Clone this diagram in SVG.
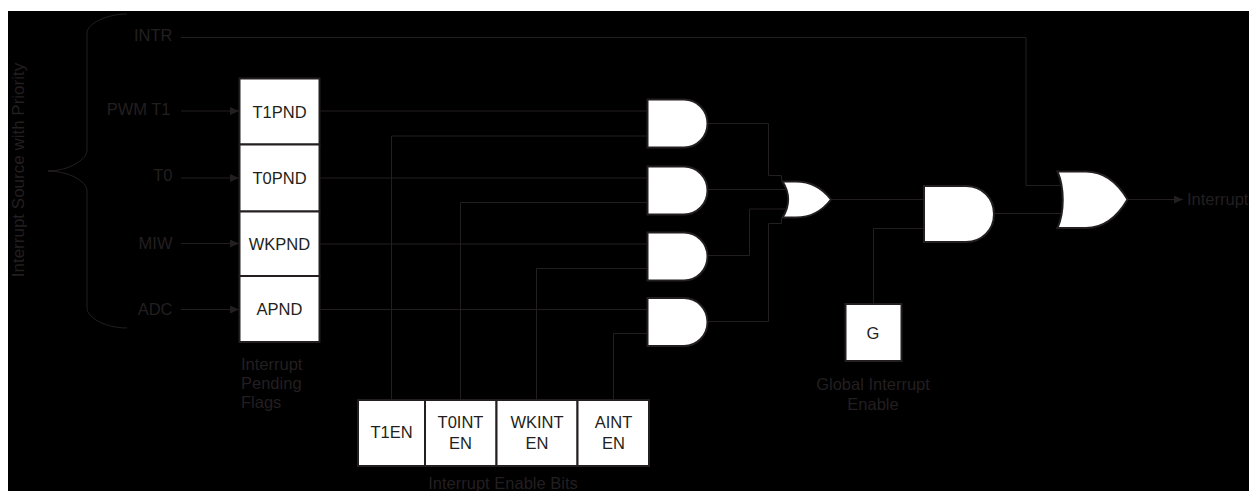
<svg xmlns="http://www.w3.org/2000/svg" width="1249" height="491" viewBox="0 0 1249 491">
<defs>
<style>
text{font-family:"Liberation Sans",Arial,sans-serif;font-size:16.5px;fill:#231f20}
.m{text-anchor:middle}.e{text-anchor:end}
.b{fill:#fff;stroke:#231f20;stroke-width:2}
.g{fill:#fff;stroke:#231f20;stroke-width:2;stroke-linejoin:miter}
.w{fill:none;stroke:#231f20;stroke-width:1}
</style>
<marker id="a" markerUnits="userSpaceOnUse" markerWidth="9" markerHeight="8" refX="9" refY="4" orient="auto"><path d="M0,0L9,4L0,8z" fill="#231f20"/></marker>
</defs>
<rect x="0" y="0" width="1249" height="491" fill="#fff"/>
<rect x="8" y="11" width="1241" height="480" fill="#000"/>
<g id="connectors" class="w">
<path class="w" d="M127,14C106,14 87,24 87,33V150C87,160 68,171 48,171H55M48,171C68,171 87,181 87,191V308C87,318 106,328 127,328"/>
<path class="w" d="M181,37.5H1026V185.5H1060"/>
<path class="w" marker-end="url(#a)" d="M181,111H239"/>
<path class="w" marker-end="url(#a)" d="M181,178H239"/>
<path class="w" marker-end="url(#a)" d="M181,243.5H239"/>
<path class="w" marker-end="url(#a)" d="M181,309.5H239"/>
<path class="w" d="M320,111H647M320,178H647M320,244H647M320,309.5H647"/>
<path class="w" d="M391.5,400V136H647M460.5,400V202.5H647M536.5,400V268.5H647M613.5,400V333.5H647"/>
<path class="w" d="M708,123.5H768.5V175.5H781.5V180"/>
<path class="w" d="M708,189.5H787"/>
<path class="w" d="M708,255.5H749.5V209H788"/>
<path class="w" d="M708,321.5H768.5V223.5H781.5V219"/>
<path class="w" d="M831,199.5H924M873.5,304V228.5H924M994,213.5H1062"/>
<path class="w" marker-end="url(#a)" d="M1128,199.5H1183"/>
</g>
<g id="source-labels">
<text class="e" x="172.5" y="41">INTR</text>
<text class="e" x="170.5" y="114.5">PWM T1</text>
<text class="e" x="172.5" y="180.5">T0</text>
<text class="e" x="172.5" y="248.5">MIW</text>
<text class="e" x="172.5" y="315">ADC</text>
<text class="m" style="font-size:17px" transform="translate(24,170) rotate(-90)">Interrupt Source with Priority</text>
</g>
<g id="pending-flags">
<g id="t1pnd"><rect class="b" x="239.5" y="78.5" width="80" height="66"/><text class="m" x="279.5" y="117.5">T1PND</text></g>
<g id="t0pnd"><rect class="b" x="239.5" y="144.5" width="80" height="67"/><text class="m" x="279.5" y="183.5">T0PND</text></g>
<g id="wkpnd"><rect class="b" x="239.5" y="211.5" width="80" height="64.5"/><text class="m" x="279.5" y="249.5">WKPND</text></g>
<g id="apnd"><rect class="b" x="239.5" y="276" width="80" height="66"/><text class="m" x="279.5" y="314.5">APND</text></g>
<text x="241" y="370">Interrupt</text>
<text x="241" y="389">Pending</text>
<text x="241" y="408">Flags</text>
</g>
<g id="enable-bits">
<g id="t1en"><rect class="b" x="358" y="400" width="67" height="66"/><text class="m" x="391.5" y="438">T1EN</text></g>
<g id="t0inten"><rect class="b" x="425" y="400" width="71.5" height="66"/><text class="m" x="460.5" y="428">T0INT</text><text class="m" x="460.5" y="449">EN</text></g>
<g id="wkinten"><rect class="b" x="496.5" y="400" width="81" height="66"/><text class="m" x="537" y="428">WKINT</text><text class="m" x="537" y="449">EN</text></g>
<g id="ainten"><rect class="b" x="577.5" y="400" width="71.5" height="66"/><text class="m" x="613.5" y="428">AINT</text><text class="m" x="613.5" y="449">EN</text></g>
<text class="m" x="503" y="489">Interrupt Enable Bits</text>
</g>
<g id="and1"><path class="g" d="M647.5,99.5H684C697,99.5 707.5,110 707.5,123.5C707.5,137 697,147.5 684,147.5H647.5Z"/></g>
<g id="and2"><path class="g" d="M647.5,166.5H684C697,166.5 707.5,177 707.5,190.5C707.5,204 697,214.5 684,214.5H647.5Z"/></g>
<g id="and3"><path class="g" d="M647.5,232.5H684C697,232.5 707.5,243 707.5,256.5C707.5,270 697,280.5 684,280.5H647.5Z"/></g>
<g id="and4"><path class="g" d="M647.5,298H684C697,298 707.5,308.5 707.5,322C707.5,335.5 697,346 684,346H647.5Z"/></g>
<g id="or1"><path class="g" d="M782.5,181.5H796C811,181.5 823,189 831,199.5C823,210 811,217.5 796,217.5H782.5C790,206 790,193 782.5,181.5Z"/></g>
<g id="and5"><path class="g" d="M924,186H966C982,186 994,198 994,214C994,230 982,242 966,242H924Z"/></g>
<g id="or2"><path class="g" d="M1057.5,171.5H1086C1106,171.5 1119,185 1127.5,199.5C1119,214 1106,228 1086,228H1057.5C1064.5,212 1064.5,188 1057.5,171.5Z"/></g>
<g id="global-enable">
<rect class="b" x="845.5" y="304" width="56" height="57"/><text class="m" x="873" y="339">G</text>
<text class="m" x="873" y="390">Global Interrupt</text>
<text class="m" x="873" y="410">Enable</text>
</g>
<text id="output-label" x="1187" y="205">Interrupt</text>
</svg>
